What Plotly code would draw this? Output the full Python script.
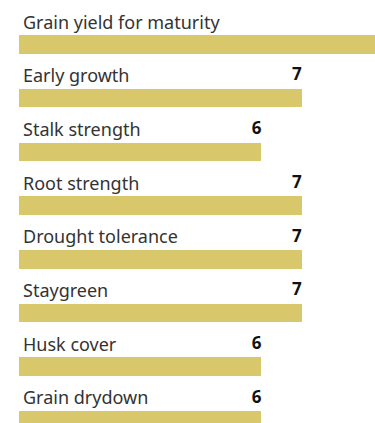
import plotly.graph_objects as go

categories = ["Grain yield for maturity", "Early growth", "Stalk strength", "Root strength",
              "Drought tolerance", "Staygreen", "Husk cover", "Grain drydown"]
values = [9, 7, 6, 7, 7, 7, 6, 6]

BAR = "#D9C76C"
TEXT = "#333333"
FONT = "Noto Sans"

rows = list(range(len(categories)))
LABEL_LIFT = 0.41  # labels sit above each bar, in row units

fig = go.Figure()
fig.add_trace(go.Bar(
    x=values, y=rows, orientation="h", width=0.345,
    marker=dict(color=BAR, line=dict(width=0)),
    hoverinfo="skip",
))
# value labels (scatter text so labels beyond the axis end are still drawn)
fig.add_trace(go.Scatter(
    x=values, y=[r - LABEL_LIFT for r in rows], mode="text",
    text=["<b>%d</b>" % v for v in values], textposition="middle left",
    textfont=dict(family=FONT, size=17, color="#111111"),
    cliponaxis=False, hoverinfo="skip",
))

annotations = []
for i, c in enumerate(categories):
    annotations.append(dict(
        x=0, y=i, xref="x", yref="y", text=c, showarrow=False,
        xanchor="left", yanchor="middle", xshift=2, yshift=23,
        font=dict(family=FONT, size=18, color=TEXT),
    ))

fig.update_layout(
    width=375, height=423,
    margin=dict(l=19, r=0, t=0, b=0),
    paper_bgcolor="white", plot_bgcolor="white",
    showlegend=False,
    bargap=0,
    xaxis=dict(range=[0, 356 / 40.4], visible=False, fixedrange=True),
    yaxis=dict(range=[7.0484, -0.8287], visible=False, fixedrange=True),
    annotations=annotations,
)

fig.write_html(
    "out.html",
    config={"displayModeBar": False},
    post_script="document.body.style.margin='0';document.body.style.overflow='hidden';",
)
